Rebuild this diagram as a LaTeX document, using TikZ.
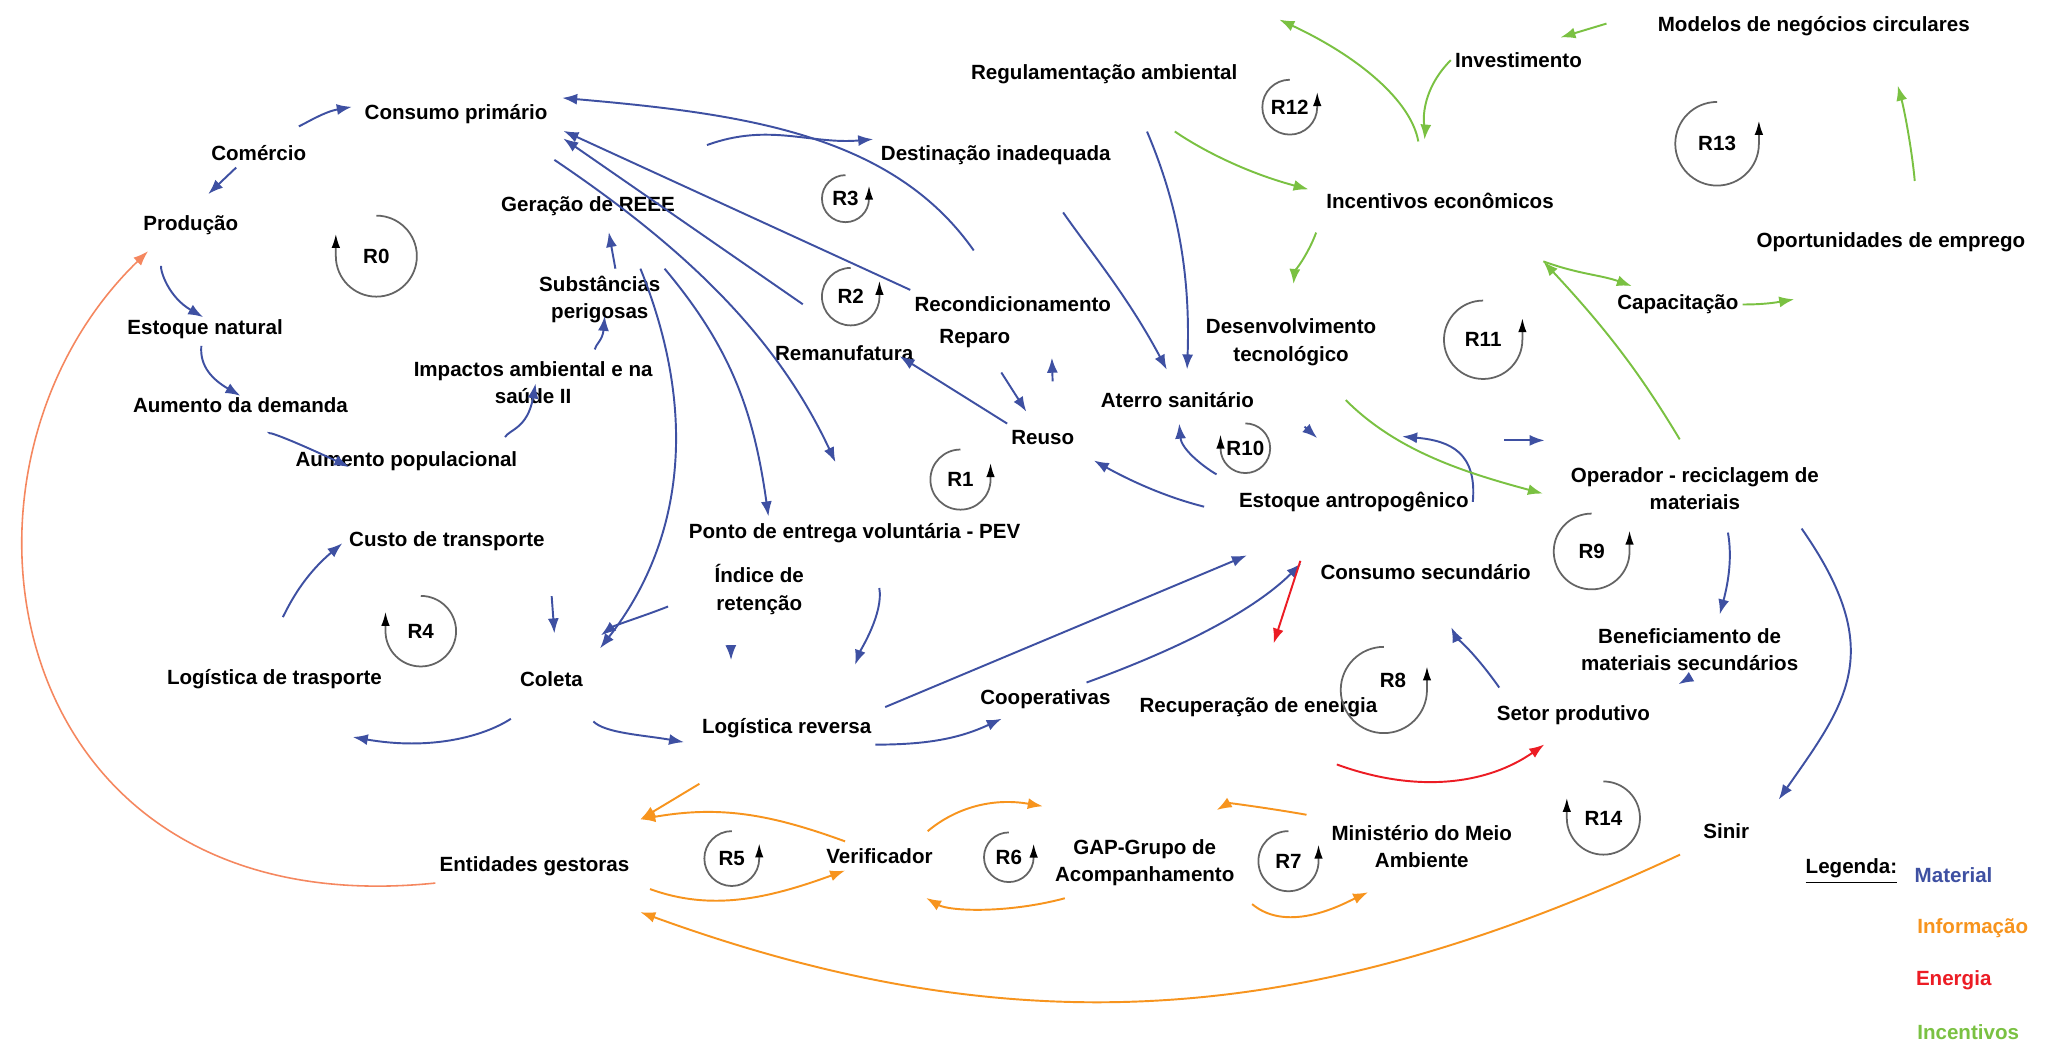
\documentclass[tikz,border=0pt]{standalone}
\usepackage{fontspec}
\setmainfont{Liberation Sans}
\usetikzlibrary{arrows.meta}
\definecolor{matblue}{RGB}{62,80,162}
\definecolor{infoorange}{RGB}{247,148,30}
\definecolor{salmon}{RGB}{245,135,95}
\definecolor{enered}{RGB}{236,28,36}
\definecolor{incgreen}{RGB}{122,193,66}
\definecolor{loopgray}{RGB}{100,100,100}

\begin{document}
\begin{tikzpicture}[x=0.13068mm, y=0.13068mm,
    varname/.style={font=\bfseries\fontsize{5.85}{7.8}\selectfont, inner xsep=1pt, inner ysep=1.8pt, align=center},
    matflow/.style={draw=matblue, line width=0.55pt, -{Latex[length=1.5mm,width=1.1mm]}},
    infoflow/.style={draw=infoorange, line width=0.55pt, -{Latex[length=1.5mm,width=1.1mm]}},
    salflow/.style={draw=salmon, line width=0.45pt, -{Latex[length=1.5mm,width=1.1mm]}},
    eneflow/.style={draw=enered, line width=0.55pt, -{Latex[length=1.5mm,width=1.1mm]}},
    incflow/.style={draw=incgreen, line width=0.55pt, -{Latex[length=1.5mm,width=1.1mm]}},
    loopmark/.style={draw=loopgray, line width=0.5pt, -{Latex[length=1.4mm,width=0.85mm,color=black]}}]
\useasboundingbox (0,0) rectangle (1568,-802);
\fill[white] (0,0) rectangle (1568,-802);

\node[varname] (cprim) at (349,-87) {Consumo primário};
\node[varname] (comercio) at (198,-117) {Comércio};
\node[varname] (producao) at (146,-172) {Produção};
\node[varname] (estnat) at (157,-252) {Estoque natural};
\node[varname] (aumdem) at (184,-310) {Aumento da demanda};
\node[varname] (aumpop) at (311,-353) {Aumento populacional};
\node[varname] (impactos) at (408,-293) {Impactos ambiental e na\\saúde II};
\node[varname] (subst) at (459,-229) {Substâncias\\perigosas};
\node[varname] (geracao) at (450,-158) {Geração de REEE};
\node[varname] (destin) at (762,-119) {Destinação inadequada};
\node[varname] (regul) at (845,-57) {Regulamentação ambiental};
\node[varname] (recond) at (775,-233) {Recondicionamento};
\node[varname] (reparo) at (746,-259) {Reparo};
\node[varname] (reman) at (646,-270) {Remanufatura};
\node[varname] (reuso) at (798,-335) {Reuso};
\node[varname] (aterro) at (901,-306) {Aterro sanitário};
\node[varname] (desenv) at (988,-262) {Desenvolvimento\\tecnológico};
\node[varname] (incent) at (1102,-154) {Incentivos econômicos};
\node[varname] (invest) at (1162,-46) {Investimento};
\node[varname] (modelos) at (1388,-20) {Modelos de negócios circulares};
\node[varname] (oport) at (1447,-185) {Oportunidades de emprego};
\node[varname] (capac) at (1284,-233) {Capacitação};
\node[varname] (operador) at (1297,-374) {Operador - reciclagem de\\materiais};
\node[varname] (estantr) at (1036,-384) {Estoque antropogênico};
\node[varname] (consec) at (1091,-438) {Consumo secundário};
\node[varname] (benef) at (1293,-497) {Beneficiamento de\\materiais secundários};
\node[varname] (setor) at (1204,-547) {Setor produtivo};
\node[varname] (recup) at (963,-541) {Recuperação de energia};
\node[varname] (coop) at (800,-535) {Cooperativas};
\node[varname] (logrev) at (602,-557) {Logística reversa};
\node[varname] (indice) at (581,-451) {Índice de\\retenção};
\node[varname] (pev) at (654,-408) {Ponto de entrega voluntária - PEV};
\node[varname] (custo) at (342,-414) {Custo de transporte};
\node[varname] (logtransp) at (210,-520) {Logística de trasporte};
\node[varname] (coleta) at (422,-520) {Coleta};
\node[varname] (entid) at (409,-663) {Entidades gestoras};
\node[varname] (verif) at (673,-655) {Verificador};
\node[varname] (gap) at (876,-660) {GAP-Grupo de\\Acompanhamento};
\node[varname] (minist) at (1088,-648) {Ministério do Meio\\Ambiente};
\node[varname] (sinir) at (1321,-636) {Sinir};

\coordinate (destfrom) at (541,-111);
\coordinate (ltransin) at (270,-564);
\coordinate (entgin) at (490,-627);
\coordinate (entgout) at (490,-698);
\coordinate (gapin) at (798,-617);
\coordinate (antrout) at (1073,-334);
\coordinate (antrfrom) at (1151,-337);
\coordinate (operin) at (1182,-337);
\coordinate (recupout) at (1023,-585);
\coordinate (regtop) at (979,-15);
\coordinate (incbase) at (1181,-200);
\coordinate (oportin) at (1373,-229);

\draw[matflow, shorten <=8pt, shorten >=2.5pt] (comercio.45) to[out=25,in=190] (cprim.175);
\draw[matflow, shorten >=5.8pt] (comercio.213) -- (producao.81);
\draw[matflow, shorten <=7pt, shorten >=-2.5pt] (producao.211) to[out=-95,in=150] (estnat.120);
\draw[matflow, shorten >=-3pt] (estnat.-103) to[out=-95,in=150] (aumdem.122);
\draw[matflow, shorten <=8pt, shorten >=-15pt] (aumdem.-69) to[out=-30,in=155] (aumpop.171);
\draw[matflow, shorten <=2.5pt, shorten >=-8pt] (aumpop.10) to[out=60,in=-100] (impactos.-95);
\draw[matflow, shorten <=1.5pt, shorten >=-4pt] (impactos.25) to[out=80,in=-95] (subst.-83);
\draw[matflow, shorten >=2.6pt] (subst.63) -- (geracao.-41);
\draw[matflow, shorten <=13.7pt, shorten >=3pt] (recond.128) to[out=125,in=-5] (cprim.north east);
\draw[matflow, shorten >=3.7pt] (recond.north west) -- (cprim.-7);
\draw[matflow, shorten <=17pt, shorten >=4pt] (reman.62) -- (cprim.south east);
\draw[matflow, shorten >=1pt] (destfrom) to[out=20,in=185] (destin.north west);
\draw[matflow, shorten <=15pt, shorten >=17pt] (cprim.-17) to[out=-34,in=115] (pev.70);
\draw[matflow] (subst.north east) to[out=-50,in=98] (pev.169);
\draw[matflow, shorten >=6pt] (subst.37) to[out=-68,in=52] (coleta.north east);
\draw[matflow, shorten <=13pt, shorten >=14pt] (indice.west) to[out=202,in=37] (coleta.55);
\draw[matflow, shorten <=11pt, shorten >=9pt] (custo.south east) -- (coleta.70);
\draw[matflow, shorten <=15pt, shorten >=1pt] (logtransp.137) to[out=60,in=220] (custo.west);
\draw[matflow, shorten <=12.9pt] (coleta.-100) to[out=213,in=-10] (ltransin);
\draw[matflow, shorten <=11pt, shorten >=4pt] (coleta.-45) to[out=-45,in=170] (logrev.south west);
\draw[matflow, shorten <=8pt, shorten >=14.5pt] (indice.-132) -- (logrev.163);
\draw[matflow, shorten <=11pt, shorten >=14pt] (pev.-43) to[out=-80,in=70] (logrev.18);
\draw[matflow, shorten <=3pt, shorten >=27pt] (logrev.north east) -- (estantr.221);
\draw[matflow, shorten >=2pt] (logrev.south east) to[out=0,in=205] (coop.204);
\draw[matflow, shorten >=18pt] (coop.22) to[out=20,in=225] (estantr.245);
\draw[matflow, shorten <=9pt, shorten >=5pt] (estantr.186) to[out=166,in=-29] (reuso.south east);
\draw[matflow, shorten <=6pt, shorten >=2.6pt] (estantr.north west) to[out=150,in=-85] (aterro.-86);
\draw[matflow, shorten <=6pt, shorten >=4pt] (reparo.-47) -- (reuso.122);
\draw[matflow, shorten <=12pt, shorten >=11pt] (reuso.52) -- (recond.-21.5);
\draw[matflow, shorten >=-6pt] (reuso.north west) -- (reman.south east);
\draw[matflow, shorten <=14pt, shorten >=5pt] (destin.-23) to[out=-55,in=118] (aterro.99);
\draw[matflow, shorten <=12.5pt, shorten >=4.5pt] (regul.-33) to[out=-67,in=88] (aterro.58);
\draw[matflow, shorten <=23pt, shorten >=20pt] (desenv.213) -- (estantr.47);
\draw[matflow, looseness=1.3] (estantr.east) to[out=85,in=-5] (antrout);
\draw[matflow] (antrfrom) -- (operin);
\draw[matflow, shorten <=4.5pt, shorten >=2pt] (operador.-43) to[out=-80,in=75] (benef.45);
\draw[matflow, looseness=1.3, shorten <=4pt, shorten >=12.6pt] (operador.-16) to[out=-55,in=55] (sinir.-10);
\draw[matflow, shorten >=8pt] (benef.south) -- (setor.north east);
\draw[matflow, shorten <=3.7pt, shorten >=12.6pt] (setor.166) to[out=125,in=-65] (consec.-65);

\draw[eneflow, shorten <=12.6pt, shorten >=14pt] (estantr.203) -- (recup.north);
\draw[eneflow, shorten >=6.5pt] (recupout) to[out=-20,in=215] (setor.238);

\draw[incflow, shorten <=13pt] (incent.133) to[out=100,in=-25] (regtop);
\draw[incflow, shorten >=13.4pt] (invest.west) to[out=225,in=85] (incent.143);
\draw[incflow, shorten <=14pt, shorten >=8pt] (modelos.north west) -- (invest.44);
\draw[incflow, shorten <=20pt, shorten >=4pt] (regul.-52) to[out=-35,in=165] (incent.176);
\draw[incflow, shorten <=5pt, shorten >=8pt] (incent.south west) to[out=-110,in=85] (desenv.north);
\draw[incflow, shorten <=11pt, shorten >=7pt] (desenv.-48) to[out=-45,in=165] (operador.185);
\draw[incflow, shorten <=7pt] (operador.95) to[out=121,in=-47] (incbase);
\draw[incflow, shorten >=1.5pt] (incbase) to[out=-20,in=160] (capac.158);
\draw[incflow] (capac.east) to[out=0,in=190] (oportin);
\draw[incflow, shorten <=12.6pt, shorten >=12.6pt] (oport.31) to[out=95,in=-75] (modelos.-13);

\draw[salflow, shorten >=4pt] (entid.south west) .. controls (0,-710) and (-60,-360) .. (producao.207);
\draw[infoflow, shorten <=21.6pt] (logrev.217) -- (entgin);
\draw[infoflow] (verif.157) to[out=160,in=10] (entgin);
\draw[infoflow, shorten <=5pt] (entid.south east) to[out=-20,in=200] (verif.203);
\draw[infoflow, shorten <=6pt] (sinir.south west) to[out=205,in=-20] (entgout);
\draw[infoflow, shorten <=4.5pt] (verif.22) to[out=40,in=170] (gapin);
\draw[infoflow, shorten <=6pt, shorten >=15.6pt] (gap.207) to[out=195,in=-30] (verif.-93);
\draw[infoflow, shorten <=6pt, shorten >=12.6pt] (minist.north west) to[out=170,in=30] (gap.42);
\draw[infoflow, shorten <=5pt, shorten >=11.5pt] (gap.south east) to[out=-40,in=205] (minist.239);

\foreach \lbl/\px/\py/\rad in {R0/288/196/31, R4/322/483/27, R10/953/343/19, R14/1227/626/28} {
  \node[varname] (\lbl) at (\px,-\py) {\lbl};
  \draw[loopmark] (\lbl.center) ++(90:\rad) arc[start angle=90, end angle=-180, radius=\rad] -- ++(0,0.55*\rad);
}
\foreach \lbl/\px/\py/\rad in {R1/735/367/23, R2/651/227/22, R3/647/152/18, R5/560/657/21,
    R6/772/656/19, R7/986/659/23, R9/1218/422/29, R11/1135/260/30,
    R12/987/82/21, R13/1314/110/32} {
  \node[varname] (\lbl) at (\px,-\py) {\lbl};
  \draw[loopmark] (\lbl.center) ++(90:\rad) arc[start angle=90, end angle=360, radius=\rad] -- ++(0,0.55*\rad);
}
\node[varname] (R8) at (1066,-521) {R8};
\draw[loopmark] (1059,-528) ++(90:33) arc[start angle=90, end angle=360, radius=33] -- ++(0,18);

\node[varname, anchor=east] (legenda) at (1455,-667) {\underline{Legenda:}};
\node[varname, anchor=west, text=matblue] (legmat) at (1462,-670) {Material};
\node[varname, anchor=west, text=infoorange] (leginf) at (1464,-710) {Informação};
\node[varname, anchor=west, text=enered] (legene) at (1463,-750) {Energia};
\node[varname, anchor=west, text=incgreen] (leginc) at (1464,-790) {Incentivos};
\end{tikzpicture}
\end{document}
